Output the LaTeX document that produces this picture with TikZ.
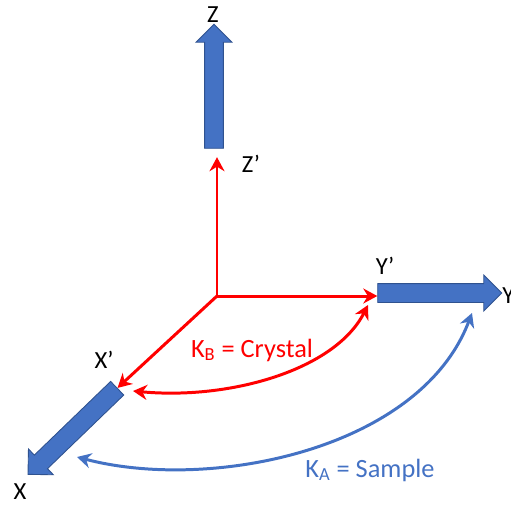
\documentclass[tikz,border=0pt]{standalone}
\usepackage{fontspec}
\setmainfont{Carlito}
\usepackage{tikz}
\usetikzlibrary{arrows.meta, shapes.arrows}
\definecolor{myred}{RGB}{255,0,0}
\definecolor{myblue}{RGB}{68,114,196}
\definecolor{myedge}{RGB}{47,82,143}
\tikzset{
  axblock/.style={single arrow, draw=myedge, fill=myblue, line width=0.5pt,
    minimum height=2.48cm, inner sep=0.18cm, single arrow head extend=0.17cm,
    single arrow tip angle=90},
  lbl/.style={font=\fontsize{14}{16}\selectfont, text=black, inner sep=0pt},
  klbl/.style={font=\fontsize{15}{17}\selectfont, inner sep=0pt},
  redarrow/.style={-{Stealth[length=0.28cm, width=0.3cm]}, line width=1.7pt, color=myred},
  bluearrow/.style={{Stealth[length=0.28cm, width=0.3cm]}-{Stealth[length=0.28cm, width=0.3cm]}, line width=1.7pt, color=myblue}
}
\begin{document}
\begin{tikzpicture}[x=0.02cm, y=-0.02cm]
  \useasboundingbox (0,0) rectangle (511,508);
  % lab axes
  \node[axblock, rotate=90] (Zax) at (214,91) {};
  \node[axblock] (Yax) at (435,293) {};
  \node[axblock, rotate=224] (Xax) at (76,428) {};

  % crystal axes
  \coordinate (O) at (217,296);
  \draw[redarrow, shorten >=0.17cm] (O) -- (O |- Zax.tail);
  \draw[redarrow] (O) -- (O -| Yax.tail);
  \draw[redarrow] (O) -- (Xax.tail);

  \node[lbl] (Zlab) at (213,15) {Z};
  \node[lbl] (Zplab) at (251,164) {Z’};
  \node[lbl] (Yplab) at (385,266) {Y’};
  \node[lbl, anchor=west] (Ylab) at (502,296) {Y};
  \node[lbl] (Xplab) at (104,360) {X’};
  \node[lbl] (Xlab) at (20,492) {X};

  % rotations
  \coordinate (rL) at (133,391);
  \coordinate (rR) at (368,305);
  \draw[redarrow, {Stealth[length=0.28cm, width=0.3cm]}-{Stealth[length=0.28cm, width=0.3cm]}] (rL) .. controls (230,400) and (335,370) .. (rR);
  \coordinate (bL) at (77,457);
  \coordinate (bR) at (472,313);
  \draw[bluearrow] (bL) .. controls (210,492) and (420,450) .. (bR);

  \node[klbl, text=myred] (KB) at (252,350) {K\textsubscript{B} = Crystal};
  \node[klbl, text=myblue] (KA) at (370,470) {K\textsubscript{A} = Sample};
\end{tikzpicture}
\end{document}
